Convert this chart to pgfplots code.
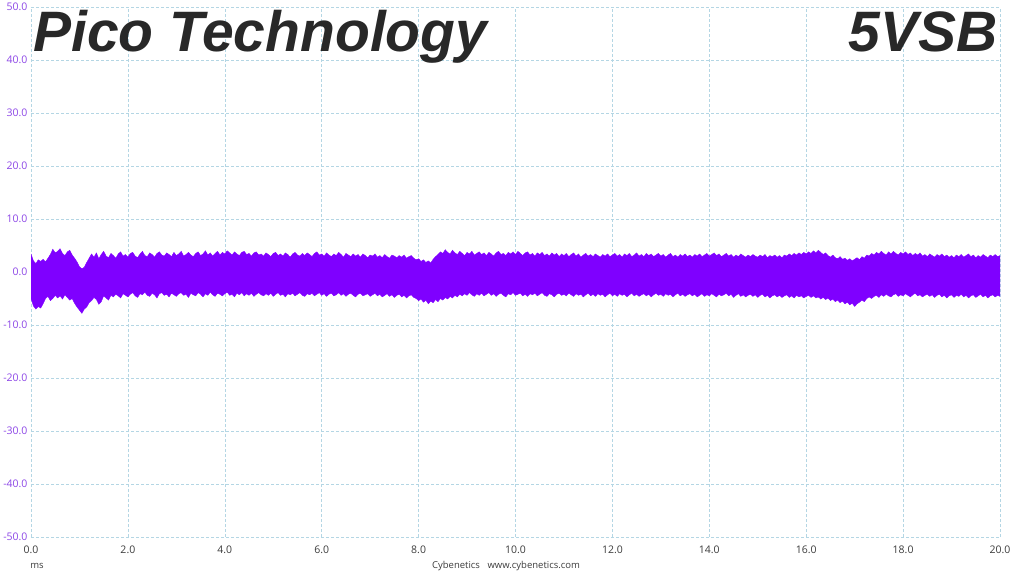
\documentclass[border=0pt]{standalone}
\usepackage{fontspec}
\setmainfont{Open Sans}
\newfontfamily\titlefont{Liberation Sans}
\usepackage{pgfplots}
\pgfplotsset{compat=1.18}
\usepackage{pgfplotstable}
\usepgfplotslibrary{fillbetween}
\definecolor{sig}{RGB}{127,0,255}
\definecolor{ylab}{RGB}{140,70,230}
\definecolor{xlab}{RGB}{60,60,60}
\definecolor{gridc}{RGB}{180,214,228}
\definecolor{ttl}{RGB}{40,40,40}
\pgfkeys{/pgf/number format/assume math mode=true}
\pgfplotstableread{
t u l
0.00 3.4 -5.0
0.05 2.1 -6.4
0.10 1.6 -7.0
0.15 2.3 -6.5
0.20 2.0 -6.8
0.25 2.4 -6.0
0.30 1.9 -5.0
0.35 2.6 -4.6
0.40 3.3 -5.4
0.45 4.3 -5.0
0.50 3.6 -4.4
0.55 3.9 -4.9
0.60 4.4 -4.5
0.65 3.5 -5.1
0.70 3.1 -4.3
0.75 3.8 -4.8
0.80 4.1 -5.3
0.85 3.2 -5.0
0.90 2.6 -5.9
0.95 1.9 -6.6
1.00 1.0 -7.2
1.05 0.6 -7.8
1.10 0.9 -7.0
1.15 1.8 -6.6
1.20 2.6 -5.8
1.25 3.4 -5.4
1.30 2.8 -4.8
1.35 3.6 -5.2
1.40 2.5 -6.1
1.45 3.3 -5.6
1.50 3.9 -4.5
1.55 3.0 -4.9
1.60 2.7 -5.3
1.65 3.5 -4.4
1.70 3.1 -4.7
1.75 2.6 -4.2
1.80 3.4 -4.5
1.85 3.8 -4.9
1.90 3.0 -4.1
1.95 3.3 -4.4
2.00 2.8 -4.7
2.05 3.5 -4.2
2.10 3.7 -3.9
2.15 3.0 -4.5
2.20 2.7 -4.8
2.25 3.4 -4.1
2.30 3.9 -4.3
2.35 3.1 -3.8
2.40 2.9 -4.4
2.45 3.6 -4.6
2.50 3.3 -4.0
2.55 2.8 -4.3
2.60 3.5 -4.9
2.65 3.8 -4.1
2.70 3.2 -3.9
2.75 3.0 -4.4
2.80 3.6 -4.2
2.85 3.3 -4.7
2.90 2.9 -4.0
2.95 3.7 -4.3
3.00 3.1 -4.6
3.05 3.4 -4.1
3.10 3.9 -3.9
3.15 3.0 -4.4
3.20 3.3 -4.2
3.25 3.7 -4.8
3.30 3.2 -4.0
3.35 2.9 -4.3
3.40 3.5 -4.5
3.45 3.8 -3.9
3.50 3.1 -4.2
3.55 3.4 -4.7
3.60 4.0 -4.1
3.65 3.2 -4.4
3.70 3.6 -3.8
3.75 3.0 -4.3
3.80 3.5 -4.6
3.85 3.9 -4.0
3.90 3.2 -4.2
3.95 3.7 -4.5
4.00 3.4 -4.1
4.05 4.0 -3.8
4.10 3.6 -4.4
4.15 3.2 -4.2
4.20 3.8 -4.7
4.25 3.4 -4.0
4.30 3.1 -4.3
4.35 3.7 -3.9
4.40 3.9 -4.5
4.45 3.3 -4.1
4.50 3.5 -4.4
4.55 3.0 -4.0
4.60 3.6 -4.6
4.65 3.8 -4.2
4.70 3.2 -3.9
4.75 3.4 -4.3
4.80 3.0 -4.5
4.85 3.6 -4.1
4.90 3.3 -4.4
4.95 2.9 -4.0
5.00 3.5 -4.6
5.05 3.7 -4.2
5.10 3.1 -3.9
5.15 3.4 -4.4
5.20 3.0 -4.2
5.25 3.6 -4.7
5.30 3.3 -4.1
5.35 2.8 -4.3
5.40 3.4 -4.0
5.45 3.7 -4.5
5.50 3.2 -4.2
5.55 3.0 -3.9
5.60 3.5 -4.4
5.65 3.1 -4.6
5.70 3.6 -4.1
5.75 3.3 -4.3
5.80 2.9 -4.0
5.85 3.5 -4.5
5.90 3.8 -4.2
5.95 3.2 -3.9
6.00 3.4 -4.4
6.05 3.0 -4.1
6.10 3.6 -4.6
6.15 3.2 -4.2
6.20 2.9 -4.0
6.25 3.4 -4.5
6.30 3.1 -4.3
6.35 3.7 -3.9
6.40 3.3 -4.4
6.45 2.8 -4.1
6.50 3.5 -4.6
6.55 3.2 -4.2
6.60 2.9 -4.0
6.65 3.4 -4.4
6.70 3.0 -4.7
6.75 3.3 -4.2
6.80 2.8 -4.0
6.85 3.4 -4.5
6.90 3.1 -4.3
6.95 2.7 -4.1
7.00 3.2 -4.6
7.05 3.0 -4.3
7.10 3.4 -4.0
7.15 2.8 -4.5
7.20 3.1 -4.2
7.25 2.7 -4.7
7.30 3.3 -4.4
7.35 2.9 -4.1
7.40 2.6 -4.6
7.45 3.2 -4.3
7.50 3.0 -4.8
7.55 2.7 -4.4
7.60 3.1 -4.2
7.65 2.8 -4.7
7.70 3.2 -4.4
7.75 2.6 -4.9
7.80 2.9 -4.5
7.85 3.1 -4.3
7.90 2.6 -4.8
7.95 2.3 -5.0
8.00 2.5 -5.4
8.05 2.0 -5.1
8.10 2.3 -5.7
8.15 1.8 -5.3
8.20 2.1 -6.0
8.25 1.7 -5.5
8.30 2.4 -5.8
8.35 2.9 -5.2
8.40 3.3 -5.6
8.45 3.8 -5.0
8.50 3.5 -5.3
8.55 4.2 -4.8
8.60 3.7 -5.1
8.65 3.4 -4.6
8.70 4.1 -4.9
8.75 3.6 -4.4
8.80 3.3 -4.7
8.85 3.9 -4.2
8.90 3.5 -4.5
8.95 3.1 -4.1
9.00 3.7 -4.4
9.05 3.4 -3.9
9.10 3.9 -4.3
9.15 3.2 -4.6
9.20 3.5 -4.1
9.25 3.8 -4.4
9.30 3.3 -4.0
9.35 3.6 -4.5
9.40 3.1 -4.2
9.45 3.7 -3.9
9.50 3.4 -4.4
9.55 3.0 -4.1
9.60 3.6 -4.6
9.65 3.9 -4.2
9.70 3.3 -4.0
9.75 3.5 -4.4
9.80 3.1 -4.7
9.85 3.7 -4.1
9.90 3.4 -4.3
9.95 3.8 -3.9
10.00 3.3 -4.4
10.05 3.9 -4.2
10.10 3.5 -4.0
10.15 3.1 -4.5
10.20 3.6 -4.2
10.25 3.8 -4.6
10.30 3.2 -4.1
10.35 3.5 -4.3
10.40 3.0 -4.0
10.45 3.6 -4.5
10.50 3.3 -4.2
10.55 3.7 -3.9
10.60 3.1 -4.4
10.65 3.4 -4.6
10.70 3.0 -4.1
10.75 3.6 -4.3
10.80 3.2 -4.7
10.85 3.5 -4.2
10.90 2.9 -4.0
10.95 3.4 -4.4
11.00 3.1 -4.2
11.05 3.5 -4.5
11.10 2.9 -4.0
11.15 3.3 -4.3
11.20 3.6 -4.6
11.25 3.0 -4.1
11.30 3.4 -4.4
11.35 2.8 -4.2
11.40 3.2 -4.7
11.45 3.5 -4.3
11.50 3.0 -4.0
11.55 3.3 -4.5
11.60 2.9 -4.2
11.65 3.4 -4.6
11.70 3.1 -4.1
11.75 2.8 -4.4
11.80 3.3 -4.2
11.85 3.0 -4.7
11.90 3.4 -4.3
11.95 2.9 -4.0
12.00 3.2 -4.5
12.05 3.5 -4.2
12.10 3.0 -4.6
12.15 3.3 -4.1
12.20 2.8 -4.4
12.25 3.4 -4.2
12.30 3.1 -4.7
12.35 3.5 -4.3
12.40 2.9 -4.0
12.45 3.2 -4.5
12.50 3.6 -4.2
12.55 3.0 -4.6
12.60 3.3 -4.3
12.65 2.9 -4.1
12.70 3.5 -4.5
12.75 3.1 -4.2
12.80 3.4 -4.7
12.85 2.9 -4.3
12.90 3.2 -4.0
12.95 3.5 -4.4
13.00 3.0 -4.2
13.05 3.3 -4.6
13.10 2.8 -4.1
13.15 3.2 -4.4
13.20 3.5 -4.2
13.25 2.9 -4.7
13.30 3.2 -4.3
13.35 2.8 -4.0
13.40 3.3 -4.5
13.45 3.0 -4.2
13.50 3.4 -4.6
13.55 2.9 -4.3
13.60 3.2 -4.1
13.65 2.8 -4.5
13.70 3.3 -4.2
13.75 3.0 -4.7
13.80 3.4 -4.4
13.85 2.9 -4.1
13.90 3.2 -4.6
13.95 3.5 -4.3
14.00 3.0 -4.5
14.05 3.3 -4.1
14.10 3.6 -4.4
14.15 3.1 -4.7
14.20 3.4 -4.2
14.25 2.9 -4.5
14.30 3.2 -4.3
14.35 3.5 -4.0
14.40 3.0 -4.5
14.45 3.3 -4.2
14.50 2.8 -4.8
14.55 3.2 -4.4
14.60 2.9 -4.1
14.65 3.4 -4.6
14.70 3.1 -4.3
14.75 2.8 -4.7
14.80 3.2 -4.4
14.85 2.9 -4.2
14.90 3.3 -4.6
14.95 3.0 -4.3
15.00 2.8 -4.8
15.05 3.2 -4.4
15.10 2.9 -4.2
15.15 3.3 -4.7
15.20 2.7 -4.4
15.25 3.1 -4.9
15.30 2.9 -4.5
15.35 3.2 -4.3
15.40 2.8 -4.7
15.45 3.1 -4.4
15.50 2.7 -4.8
15.55 3.2 -4.5
15.60 3.0 -4.3
15.65 3.4 -4.8
15.70 3.1 -4.5
15.75 3.5 -4.9
15.80 3.2 -4.4
15.85 3.6 -4.7
15.90 3.3 -4.5
15.95 3.7 -4.9
16.00 3.4 -4.6
16.05 3.8 -4.4
16.10 3.5 -4.8
16.15 4.0 -4.5
16.20 3.6 -4.9
16.25 4.1 -4.7
16.30 3.7 -5.1
16.35 3.3 -4.8
16.40 3.6 -5.2
16.45 3.1 -4.9
16.50 2.8 -5.4
16.55 3.2 -5.1
16.60 2.7 -5.6
16.65 2.5 -5.3
16.70 2.9 -5.8
16.75 2.4 -5.5
16.80 2.6 -6.0
16.85 2.2 -5.7
16.90 2.5 -6.2
16.95 2.1 -5.9
17.00 2.4 -6.5
17.05 2.7 -6.0
17.10 2.3 -5.7
17.15 2.9 -5.3
17.20 2.6 -5.6
17.25 3.2 -5.0
17.30 3.0 -4.7
17.35 3.5 -5.0
17.40 3.2 -4.6
17.45 3.7 -4.4
17.50 3.4 -4.8
17.55 3.9 -4.3
17.60 3.5 -4.6
17.65 3.2 -4.2
17.70 3.8 -4.5
17.75 3.4 -4.7
17.80 3.9 -4.3
17.85 3.5 -4.1
17.90 3.2 -4.6
17.95 3.7 -4.3
18.00 3.4 -4.5
18.05 3.8 -4.1
18.10 3.3 -4.4
18.15 3.6 -4.7
18.20 3.1 -4.3
18.25 3.5 -4.0
18.30 3.2 -4.5
18.35 3.6 -4.3
18.40 3.0 -4.7
18.45 3.3 -4.4
18.50 2.9 -4.2
18.55 3.4 -4.6
18.60 3.1 -4.3
18.65 2.8 -4.8
18.70 3.3 -4.4
18.75 3.0 -4.2
18.80 3.4 -4.7
18.85 2.9 -4.4
18.90 3.2 -4.9
18.95 2.8 -4.5
19.00 3.1 -4.3
19.05 2.7 -4.8
19.10 3.2 -4.4
19.15 2.9 -4.6
19.20 3.3 -4.2
19.25 2.8 -4.7
19.30 3.1 -4.4
19.35 3.4 -4.9
19.40 2.9 -4.5
19.45 3.2 -4.3
19.50 2.7 -4.8
19.55 3.1 -4.5
19.60 2.8 -4.2
19.65 3.3 -4.7
19.70 3.0 -4.4
19.75 2.7 -4.9
19.80 3.2 -4.5
19.85 2.9 -4.3
19.90 3.3 -4.7
19.95 2.9 -4.4
20.00 3.1 -4.6
}\sigdata
\begin{document}
\begin{tikzpicture}
\begin{axis}[
  at={(31pt,34pt)}, anchor=south west,
  scale only axis, width=969pt, height=530pt,
  xmin=0, xmax=20, ymin=-50, ymax=50,
  xtick={0,2,...,20}, ytick={-50,-40,...,50},
  axis line style={draw=none},
  major tick length=0pt,
  grid=major,
  major grid style={gridc, dash pattern=on 3pt off 2pt, line width=0.45pt},
  tick label style={font=\fontsize{10.5}{13}\selectfont},
  xticklabel style={xlab, yshift=-5pt, /pgf/number format/fixed, /pgf/number format/fixed zerofill, /pgf/number format/precision=1},
  yticklabel style={ylab, /pgf/number format/fixed, /pgf/number format/fixed zerofill, /pgf/number format/precision=1},
  clip=true,
]
\addplot[name path=U, draw=sig, line width=0.4pt] table[x=t,y=u]{\sigdata};
\addplot[name path=L, draw=sig, line width=0.4pt] table[x=t,y=l]{\sigdata};
\addplot[sig] fill between[of=U and L];
\node[ylab, anchor=east, font=\fontsize{9.5}{12}\selectfont, inner sep=0pt] at ([xshift=-3pt,yshift=-15pt]rel axis cs:0,1) {mV};
\node[ylab, anchor=east, font=\fontsize{9.5}{12}\selectfont, inner sep=0pt] at ([xshift=-4pt,yshift=-30pt]rel axis cs:0,1) {AC};
\end{axis}
\node[xlab, font=\fontsize{9.5}{12}\selectfont] at (37pt,5pt) {ms};
\node[xlab, font=\fontsize{9.5}{12}\selectfont] at (506pt,5pt) {Cybenetics\hspace{0.8em}www.cybenetics.com};
\node[ttl, anchor=base west, inner sep=0pt, font=\titlefont\bfseries\itshape\fontsize{57}{60}\selectfont] at (33pt,519pt) {Pico Technology};
\node[ttl, anchor=base east, inner sep=0pt, font=\titlefont\bfseries\itshape\fontsize{57}{60}\selectfont] at (998pt,519pt) {5VSB};
\pgfresetboundingbox
\useasboundingbox (0,0) rectangle (1015pt,571pt);
\end{tikzpicture}
\end{document}
